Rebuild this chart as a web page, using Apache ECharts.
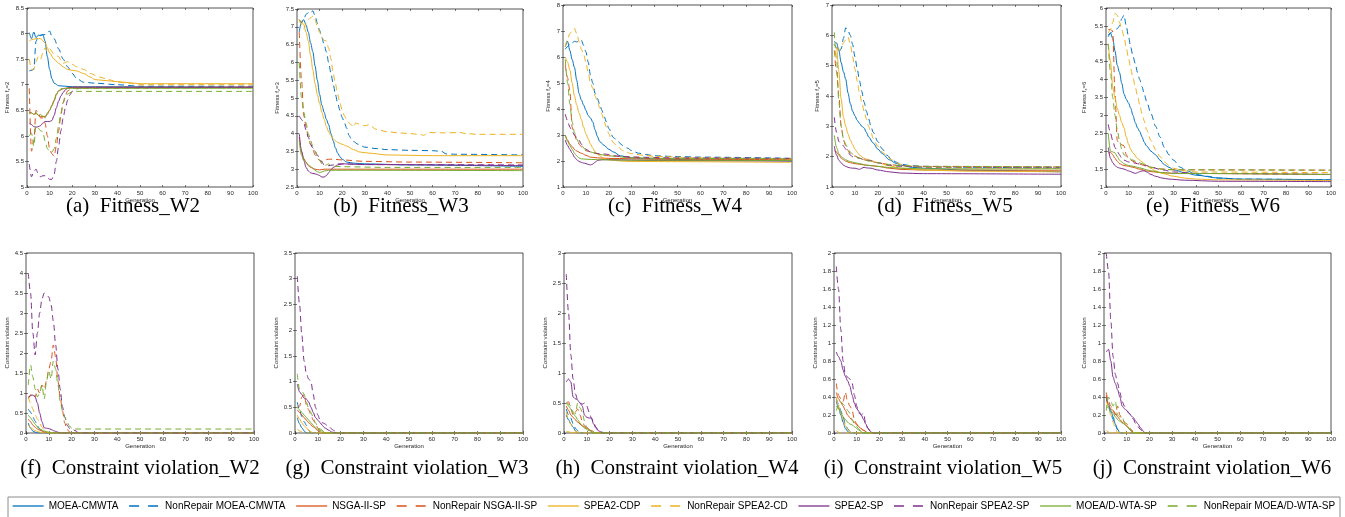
<!DOCTYPE html>
<html><head><meta charset="utf-8">
<script src="https://cdn.jsdelivr.net/npm/echarts@6/dist/echarts.min.js"></script>
<style>html,body{margin:0;padding:0;background:#fff}#c{width:1345px;height:517px}</style>
</head><body><div id="c"></div>
<script>
const seriesNames = ['MOEA-CMWTA','NonRepair MOEA-CMWTA','NSGA-II-SP','NonRepair NSGA-II-SP','SPEA2-CDP','NonRepair SPEA2-CD','SPEA2-SP','NonRepair SPEA2-SP','MOEA/D-WTA-SP','NonRepair MOEA/D-WTA-SP'];
const seriesColors = ['#0072BD','#0072BD','#D95319','#D95319','#EDB120','#EDB120','#7E2F8E','#7E2F8E','#77AC30','#77AC30'];
const seriesDashed = [false,true,false,true,false,true,false,true,false,true];
const panelCaptions = ['(a)  Fitness_W2','(b)  Fitness_W3','(c)  Fitness_W4','(d)  Fitness_W5','(e)  Fitness_W6','(f)  Constraint violation_W2','(g)  Constraint violation_W3','(h)  Constraint violation_W4','(i)  Constraint violation_W5','(j)  Constraint violation_W6'];
const yAxisTitles = ['{a|Fitness f}{b|z}{a|=2}','{a|Fitness f}{b|z}{a|=3}','{a|Fitness f}{b|z}{a|=4}','{a|Fitness f}{b|z}{a|=5}','{a|Fitness f}{b|z}{a|=6}','Constraint violation','Constraint violation','Constraint violation','Constraint violation','Constraint violation'];
const xAxisTitle = 'Generation';
const yMin = [5,2.5,1,1,1,0,0,0,0,0];
const yMax = [8.5,7.5,8,7,6,4.5,3.5,3,2,2];
const yStep = [0.5,0.5,1,1,0.5,0.5,0.5,0.5,0.2,0.2];
const xMin = 0, xMax = 100, xStep = 10;

const fitnessW2 = [
 [[1,8.02],[2,7.9],[3,8.03],[4,7.92],[5,7.97],[6,7.96],[7,7.98],[8,7.85],[9,7.55],[10,7.3],[11,7.12],[12,7.03],[14,6.98],[20,6.96],[100,6.95]],
 [[1,7.27],[2,7.28],[3,7.3],[4,7.85],[5,7.95],[6,7.97],[8,7.98],[10,8.05],[11,7.95],[12,7.9],[14,7.7],[16,7.5],[18,7.35],[20,7.22],[22,7.12],[25,7.05],[30,7.03],[40,7.0],[50,6.97],[100,6.97]],
 [[1,6.45],[2,6.45],[3,6.42],[4,6.45],[5,6.4],[6,6.38],[8,6.38],[9,6.42],[10,6.5],[11,6.6],[12,6.7],[13,6.82],[14,6.88],[16,6.92],[18,6.94],[20,6.95],[100,6.95]],
 [[1,6.93],[2,5.7],[3,5.9],[4,6.5],[5,6.45],[6,6.35],[7,6.35],[8,6.25],[9,6.0],[10,5.75],[11,5.65],[12,5.6],[13,5.8],[14,6.1],[15,6.4],[16,6.65],[17,6.8],[18,6.88],[20,6.93],[100,6.95]],
 [[1,7.85],[2,7.88],[4,7.9],[6,7.9],[8,7.82],[9,7.72],[10,7.62],[12,7.5],[14,7.42],[16,7.35],[18,7.3],[20,7.28],[22,7.27],[25,7.22],[28,7.15],[30,7.1],[35,7.08],[40,7.06],[45,7.04],[50,7.02],[100,7.02]],
 [[1,7.5],[2,7.3],[3,7.3],[4,7.45],[5,7.55],[6,7.5],[7,7.62],[8,7.72],[9,7.65],[10,7.7],[12,7.6],[14,7.55],[15,7.48],[16,7.42],[18,7.45],[20,7.4],[22,7.35],[25,7.3],[28,7.22],[32,7.15],[36,7.1],[40,7.05],[45,7.03],[50,7.0],[100,7.0]],
 [[1,6.25],[2,6.22],[3,6.18],[4,6.17],[5,6.18],[6,6.2],[7,6.25],[8,6.28],[10,6.28],[11,6.3],[12,6.4],[13,6.55],[14,6.68],[15,6.78],[16,6.85],[17,6.9],[18,6.93],[20,6.95],[100,6.95]],
 [[1,5.45],[2,5.2],[3,5.3],[4,5.35],[5,5.25],[6,5.2],[7,5.22],[8,5.22],[9,5.18],[10,5.15],[11,5.15],[12,5.25],[13,5.5],[14,5.8],[15,6.1],[16,6.35],[17,6.55],[18,6.7],[19,6.8],[20,6.87],[22,6.92],[25,6.94],[100,6.95]],
 [[1,6.45],[2,6.45],[3,6.42],[4,6.45],[5,6.4],[6,6.42],[7,6.38],[8,6.35],[9,6.45],[10,6.5],[11,6.58],[12,6.68],[13,6.8],[14,6.88],[15,6.92],[17,6.93],[100,6.93]],
 [[1,6.0],[2,6.05],[3,5.8],[4,6.2],[5,6.15],[6,6.1],[7,6.08],[8,5.9],[9,5.75],[10,5.7],[11,5.68],[12,5.75],[13,5.95],[14,6.2],[15,6.45],[16,6.65],[17,6.75],[18,6.82],[20,6.86],[22,6.87],[100,6.87]]
];
const fitnessW3 = [
 [[1,6.85],[2,7.15],[3,7.2],[4,7.05],[5,6.85],[6,6.55],[7,6.3],[8,5.9],[9,5.5],[10,5.1],[11,4.8],[12,4.6],[13,4.4],[14,4.25],[15,4.0],[16,3.8],[17,3.6],[18,3.45],[19,3.35],[20,3.28],[22,3.2],[25,3.17],[30,3.15],[50,3.12],[100,3.08]],
 [[1,7.2],[2,7.12],[3,7.2],[4,7.35],[5,7.4],[6,7.38],[7,7.45],[8,7.3],[9,7.1],[10,6.9],[11,6.7],[12,6.5],[13,6.3],[14,6.0],[15,5.7],[16,5.4],[17,5.1],[18,4.85],[19,4.65],[20,4.45],[21,4.3],[22,4.15],[23,3.95],[24,3.85],[25,3.78],[27,3.7],[30,3.62],[35,3.58],[40,3.55],[50,3.53],[60,3.52],[64,3.5],[66,3.43],[70,3.42],[100,3.4]],
 [[1,3.9],[2,3.5],[3,3.3],[4,3.2],[5,3.1],[6,3.05],[8,3.0],[10,2.98],[12,3.0],[15,3.0],[100,3.0]],
 [[1,6.85],[2,5.5],[3,4.5],[4,4.2],[5,3.9],[6,3.7],[7,3.55],[8,3.4],[9,3.3],[10,3.25],[11,3.2],[12,3.22],[13,3.27],[14,3.28],[16,3.28],[20,3.26],[30,3.22],[50,3.2],[100,3.18]],
 [[1,7.2],[2,7.15],[3,7.05],[4,6.85],[5,6.6],[6,6.2],[7,5.8],[8,5.4],[9,5.1],[10,4.85],[11,4.6],[12,4.4],[13,4.2],[14,4.05],[15,3.95],[16,3.85],[17,3.8],[18,3.75],[20,3.7],[22,3.65],[25,3.55],[28,3.48],[32,3.45],[40,3.4],[60,3.38],[100,3.38]],
 [[1,7.2],[2,7.05],[3,6.95],[4,7.1],[5,7.2],[6,7.25],[7,7.3],[8,7.2],[9,7.0],[10,6.85],[11,6.7],[12,6.62],[13,6.6],[14,6.4],[15,6.1],[16,5.7],[17,5.4],[18,5.1],[19,4.85],[20,4.65],[21,4.5],[22,4.4],[23,4.3],[24,4.25],[25,4.18],[26,4.3],[28,4.25],[30,4.22],[32,4.25],[35,4.12],[40,4.05],[45,4.02],[50,4.0],[55,3.97],[56,3.95],[58,4.03],[65,4.02],[72,4.03],[75,4.0],[80,3.98],[100,3.98]],
 [[1,4.0],[2,3.5],[3,3.25],[4,3.05],[5,2.95],[6,2.9],[7,2.88],[8,2.87],[9,2.85],[10,2.82],[11,2.78],[12,2.78],[13,2.82],[14,2.9],[15,2.98],[16,3.05],[18,3.12],[20,3.15],[30,3.13],[100,3.1]],
 [[1,4.5],[2,4.4],[3,4.3],[4,4.1],[5,3.9],[6,3.7],[7,3.6],[8,3.5],[9,3.4],[10,3.3],[11,3.2],[12,3.12],[13,3.1],[14,3.1],[16,3.12],[18,3.15],[20,3.15],[30,3.13],[100,3.12]],
 [[1,3.8],[2,3.4],[3,3.25],[4,3.18],[5,3.12],[6,3.08],[7,3.03],[8,2.97],[9,2.93],[10,2.9],[11,2.92],[12,2.95],[14,2.97],[20,2.97],[100,2.96]],
 [[1,6.0],[2,5.0],[3,4.6],[4,4.3],[5,4.0],[6,3.8],[7,3.65],[8,3.5],[9,3.35],[10,3.25],[11,3.15],[12,3.1],[13,3.12],[14,3.15],[15,3.1],[17,3.08],[20,3.07],[40,3.05],[100,3.05]]
];
const fitnessW4 = [
 [[1,6.4],[2,6.6],[3,6.25],[4,5.9],[5,5.6],[6,5.1],[7,4.6],[8,4.35],[9,4.15],[10,3.95],[11,3.75],[12,3.65],[13,3.5],[14,3.2],[15,2.95],[16,2.75],[18,2.6],[20,2.45],[22,2.35],[25,2.2],[30,2.12],[40,2.08],[60,2.04],[100,2.0]],
 [[1,6.3],[2,6.4],[3,6.5],[4,6.55],[5,6.6],[6,6.58],[7,6.62],[8,6.65],[9,6.45],[10,6.2],[11,5.8],[12,5.3],[13,5.0],[14,4.6],[15,4.4],[16,4.2],[17,3.95],[18,3.7],[19,3.5],[20,3.25],[22,2.9],[24,2.75],[26,2.6],[28,2.5],[30,2.4],[33,2.3],[36,2.25],[40,2.2],[50,2.17],[60,2.15],[100,2.1]],
 [[1,3.0],[2,2.8],[3,2.65],[4,2.55],[5,2.45],[6,2.38],[8,2.3],[10,2.22],[12,2.15],[15,2.12],[20,2.1],[40,2.07],[100,2.05]],
 [[1,5.7],[2,5.2],[3,4.7],[4,3.3],[5,3.0],[6,2.8],[7,2.65],[8,2.55],[10,2.4],[12,2.35],[14,2.3],[16,2.25],[20,2.2],[30,2.15],[40,2.1],[100,2.08]],
 [[1,6.0],[2,5.8],[3,5.5],[4,5.0],[5,4.5],[6,4.15],[7,3.85],[8,3.6],[9,3.3],[10,3.05],[11,2.85],[12,2.65],[13,2.5],[14,2.35],[16,2.2],[18,2.1],[20,2.05],[25,2.0],[30,1.98],[100,1.95]],
 [[1,6.4],[2,6.7],[3,6.9],[4,7.0],[5,7.1],[6,6.9],[7,6.6],[8,6.3],[9,6.1],[10,5.8],[11,5.4],[12,5.0],[13,4.8],[14,4.5],[15,4.3],[16,4.05],[17,3.8],[18,3.5],[19,3.3],[20,3.05],[21,2.85],[22,2.7],[24,2.55],[26,2.4],[30,2.28],[35,2.22],[40,2.18],[60,2.12],[100,2.08]],
 [[1,2.8],[2,2.6],[3,2.45],[4,2.3],[5,2.15],[6,2.05],[7,1.98],[8,1.95],[9,1.92],[10,1.9],[11,1.87],[12,1.85],[13,1.88],[14,1.95],[15,2.02],[17,2.05],[20,2.05],[40,2.02],[100,2.0]],
 [[1,3.8],[2,3.55],[3,3.3],[4,3.15],[5,3.0],[6,2.9],[7,2.8],[8,2.65],[9,2.55],[10,2.45],[12,2.35],[14,2.3],[16,2.28],[18,2.27],[20,2.25],[22,2.2],[25,2.18],[30,2.15],[50,2.12],[100,2.1]],
 [[1,3.0],[2,2.75],[3,2.6],[4,2.45],[5,2.3],[6,2.2],[7,2.12],[8,2.08],[10,2.07],[15,2.05],[30,2.03],[100,2.02]],
 [[1,5.9],[2,5.0],[3,4.2],[4,3.5],[5,3.1],[6,2.85],[7,2.7],[8,2.6],[10,2.42],[12,2.35],[14,2.3],[16,2.25],[20,2.2],[30,2.12],[50,2.1],[100,2.08]]
];
const fitnessW5 = [
 [[1,5.8],[2,5.75],[3,5.5],[4,5.1],[5,4.8],[6,4.55],[7,4.1],[8,3.75],[9,3.5],[10,3.35],[11,3.2],[12,3.1],[13,3.0],[14,2.95],[15,2.8],[16,2.65],[18,2.45],[20,2.25],[22,2.1],[25,1.9],[28,1.78],[30,1.72],[35,1.65],[40,1.62],[60,1.55],[100,1.5]],
 [[1,5.7],[2,5.6],[3,5.45],[4,5.55],[5,5.9],[6,6.25],[7,6.15],[8,6.0],[9,5.7],[10,5.3],[11,4.9],[12,4.5],[13,4.15],[14,3.8],[15,3.5],[16,3.25],[17,3.0],[18,2.8],[20,2.5],[22,2.25],[24,2.05],[26,1.92],[28,1.82],[30,1.75],[35,1.7],[40,1.68],[60,1.65],[100,1.62]],
 [[1,2.2],[2,2.15],[3,2.05],[4,1.95],[5,1.9],[6,1.85],[8,1.8],[10,1.77],[12,1.75],[15,1.72],[18,1.7],[20,1.68],[25,1.62],[30,1.58],[40,1.56],[100,1.55]],
 [[1,5.5],[2,4.8],[3,4.0],[4,3.0],[5,2.55],[6,2.35],[7,2.2],[8,2.1],[10,2.02],[12,1.95],[14,1.9],[16,1.86],[20,1.8],[25,1.74],[30,1.7],[40,1.68],[100,1.66]],
 [[1,5.7],[2,5.6],[3,4.8],[4,3.9],[5,3.3],[6,3.0],[7,2.75],[8,2.55],[9,2.4],[10,2.25],[11,2.15],[12,2.05],[14,1.95],[16,1.9],[18,1.85],[20,1.8],[25,1.7],[30,1.62],[40,1.56],[60,1.52],[100,1.5]],
 [[1,5.3],[2,5.6],[3,5.5],[4,5.6],[5,5.75],[6,5.85],[7,5.95],[8,5.7],[9,5.3],[10,4.9],[11,4.5],[12,4.1],[13,3.8],[14,3.5],[15,3.25],[16,3.0],[17,2.8],[18,2.6],[20,2.35],[22,2.15],[24,2.0],[26,1.9],[28,1.8],[30,1.75],[35,1.68],[40,1.65],[100,1.62]],
 [[1,2.35],[2,2.05],[3,1.88],[4,1.8],[5,1.72],[6,1.68],[7,1.65],[8,1.63],[9,1.62],[10,1.62],[11,1.6],[12,1.58],[13,1.62],[14,1.65],[15,1.63],[17,1.62],[20,1.56],[25,1.5],[30,1.46],[40,1.44],[100,1.42]],
 [[1,3.3],[2,2.8],[3,2.5],[4,2.42],[5,2.35],[6,2.25],[7,2.15],[8,2.05],[9,2.0],[10,1.98],[12,1.95],[14,1.9],[16,1.88],[18,1.85],[20,1.8],[25,1.72],[30,1.68],[40,1.66],[100,1.65]],
 [[1,2.7],[2,2.3],[3,2.1],[4,2.0],[5,1.95],[6,1.9],[7,1.86],[8,1.84],[10,1.8],[12,1.77],[15,1.72],[20,1.68],[25,1.64],[30,1.62],[40,1.6],[100,1.6]],
 [[1,6.1],[2,5.2],[3,3.8],[4,3.0],[5,2.6],[6,2.4],[7,2.25],[8,2.15],[10,2.02],[12,1.95],[14,1.9],[16,1.86],[20,1.8],[25,1.74],[30,1.7],[40,1.68],[100,1.67]]
];
const fitnessW6 = [
 [[1,5.2],[2,5.3],[3,5.15],[4,4.8],[5,4.4],[6,4.2],[7,3.9],[8,3.6],[9,3.45],[10,3.35],[11,3.2],[12,3.0],[13,2.8],[14,2.65],[15,2.55],[16,2.4],[17,2.25],[18,2.15],[20,2.0],[22,1.9],[24,1.75],[26,1.62],[28,1.55],[30,1.48],[35,1.4],[40,1.33],[50,1.25],[60,1.22],[100,1.2]],
 [[1,5.25],[2,5.3],[3,5.35],[4,5.4],[5,5.42],[6,5.5],[7,5.7],[8,5.8],[9,5.5],[10,5.2],[11,4.9],[12,4.65],[13,4.45],[14,4.2],[15,4.0],[16,3.8],[17,3.6],[18,3.4],[20,3.05],[22,2.7],[24,2.4],[26,2.1],[28,1.9],[30,1.75],[33,1.55],[36,1.45],[40,1.35],[45,1.3],[50,1.25],[60,1.22],[100,1.2]],
 [[1,1.95],[2,1.97],[3,1.9],[4,1.8],[5,1.72],[6,1.65],[8,1.6],[10,1.58],[12,1.55],[15,1.5],[18,1.45],[20,1.43],[25,1.4],[30,1.38],[100,1.35]],
 [[1,5.4],[2,5.4],[3,5.35],[4,3.6],[5,2.3],[6,2.2],[7,2.18],[8,2.15],[9,1.9],[10,1.8],[12,1.72],[14,1.67],[16,1.62],[18,1.58],[20,1.55],[25,1.5],[30,1.48],[100,1.47]],
 [[1,5.0],[2,4.5],[3,3.8],[4,3.5],[5,3.2],[6,3.0],[7,2.8],[8,2.65],[9,2.4],[10,2.2],[11,2.05],[12,1.95],[14,1.8],[16,1.7],[18,1.6],[20,1.52],[22,1.45],[25,1.38],[30,1.3],[35,1.25],[40,1.22],[50,1.2],[100,1.18]],
 [[1,5.3],[2,5.4],[3,5.6],[4,5.85],[5,5.8],[6,5.6],[7,5.4],[8,5.2],[9,4.9],[10,4.6],[11,4.3],[12,4.05],[13,3.8],[14,3.55],[15,3.3],[16,3.05],[17,2.85],[18,2.6],[20,2.3],[22,2.05],[24,1.85],[26,1.7],[28,1.6],[30,1.52],[35,1.45],[40,1.42],[100,1.4]],
 [[1,2.1],[2,1.8],[3,1.68],[4,1.6],[5,1.55],[6,1.53],[8,1.5],[10,1.45],[11,1.43],[12,1.4],[13,1.38],[14,1.4],[15,1.43],[16,1.45],[17,1.45],[18,1.42],[20,1.35],[22,1.3],[25,1.25],[28,1.22],[35,1.19],[50,1.16],[100,1.15]],
 [[1,2.75],[2,2.5],[3,2.3],[4,2.1],[5,2.0],[6,1.9],[7,1.8],[8,1.75],[10,1.7],[12,1.68],[14,1.65],[16,1.63],[18,1.6],[20,1.55],[25,1.48],[30,1.42],[40,1.38],[100,1.35]],
 [[1,2.5],[2,2.0],[3,1.98],[4,1.95],[5,1.85],[6,1.75],[7,1.7],[8,1.65],[9,1.62],[10,1.6],[12,1.58],[14,1.55],[16,1.52],[18,1.48],[20,1.45],[25,1.4],[30,1.38],[100,1.35]],
 [[1,5.0],[2,4.2],[3,3.5],[4,3.0],[5,2.6],[6,2.3],[7,2.05],[8,1.9],[10,1.8],[12,1.75],[14,1.7],[16,1.65],[18,1.6],[20,1.55],[25,1.5],[30,1.48],[100,1.47]]
];
const violationW2 = [
 [[1,0.25],[2,0.12],[3,0.05],[4,0.02],[5,0],[100,0]],
 [[1,0.6],[2,0.52],[3,0.4],[4,0.3],[5,0.18],[6,0.1],[7,0.04],[8,0],[100,0]],
 [[1,0.35],[2,0.28],[3,0.2],[4,0.14],[5,0.1],[6,0.07],[8,0.03],[10,0],[100,0]],
 [[1,0.85],[2,0.95],[3,1.0],[4,0.9],[5,1.1],[6,1.0],[7,1.2],[8,1.1],[9,1.3],[10,1.6],[11,1.8],[12,2.2],[13,1.9],[14,1.3],[15,0.9],[16,0.55],[17,0.25],[18,0.1],[19,0.03],[20,0],[100,0]],
 [[1,0.2],[2,0.14],[3,0.1],[4,0.06],[5,0.04],[6,0.02],[8,0],[100,0]],
 [[1,0.9],[2,0.75],[3,0.6],[4,0.45],[5,0.35],[6,0.25],[7,0.15],[8,0.08],[10,0],[100,0]],
 [[1,0.9],[2,0.93],[3,0.95],[4,0.9],[5,0.75],[6,0.5],[7,0.28],[8,0.13],[9,0.12],[10,0.11],[11,0.09],[12,0.06],[13,0.04],[14,0.02],[15,0],[100,0]],
 [[1,4.0],[2,3.5],[3,2.5],[4,1.95],[5,2.5],[6,3.0],[7,3.35],[8,3.5],[9,3.45],[10,3.4],[11,3.2],[12,2.8],[13,2.2],[14,1.6],[15,1.1],[16,0.65],[17,0.4],[18,0.2],[19,0.12],[20,0.1],[22,0.05],[23,0],[100,0]],
 [[1,0.45],[2,0.38],[3,0.3],[4,0.22],[5,0.15],[6,0.1],[8,0.05],[10,0.02],[12,0],[100,0]],
 [[1,1.2],[2,1.7],[3,1.4],[4,1.1],[5,0.9],[6,1.0],[7,1.2],[8,0.85],[9,1.3],[10,1.55],[11,1.35],[12,1.8],[13,1.6],[14,1.2],[15,0.8],[16,0.55],[17,0.4],[18,0.28],[19,0.18],[20,0.12],[21,0.1],[100,0.1]]
];
const violationW3 = [
 [[1,0.3],[2,0.18],[3,0.1],[4,0.04],[5,0],[100,0]],
 [[1,0.6],[2,0.45],[3,0.32],[4,0.22],[5,0.15],[6,0.06],[7,0],[100,0]],
 [[1,0.45],[2,0.4],[3,0.35],[4,0.3],[5,0.25],[6,0.2],[8,0.12],[10,0.05],[12,0],[100,0]],
 [[1,0.5],[2,0.52],[3,0.7],[4,0.75],[5,0.55],[6,0.45],[7,0.35],[8,0.25],[9,0.18],[10,0.1],[11,0.05],[12,0],[100,0]],
 [[1,0.35],[2,0.27],[3,0.2],[4,0.14],[5,0.1],[6,0.05],[8,0],[100,0]],
 [[1,0.08],[2,0.04],[3,0.02],[5,0],[100,0]],
 [[1,0.95],[2,0.8],[3,0.75],[4,0.68],[5,0.66],[6,0.6],[7,0.5],[8,0.4],[9,0.3],[10,0.25],[11,0.2],[12,0.15],[13,0.1],[15,0.05],[16,0.02],[18,0],[100,0]],
 [[1,3.05],[2,2.5],[3,1.9],[4,1.4],[5,1.15],[6,1.05],[7,1.0],[8,0.75],[9,0.5],[10,0.35],[11,0.25],[12,0.2],[13,0.18],[14,0.15],[15,0.12],[16,0.08],[17,0.05],[18,0.02],[20,0],[100,0]],
 [[1,0.5],[2,0.45],[3,0.4],[4,0.35],[5,0.3],[6,0.25],[7,0.2],[8,0.15],[9,0.1],[11,0.05],[13,0],[100,0]],
 [[1,1.15],[2,0.85],[3,0.82],[4,0.75],[5,0.6],[6,0.48],[7,0.4],[8,0.3],[9,0.2],[10,0.12],[11,0.08],[13,0.02],[14,0],[100,0]]
];
const violationW4 = [
 [[1,0.3],[2,0.22],[3,0.15],[4,0.1],[5,0.04],[6,0],[100,0]],
 [[1,0.4],[2,0.3],[3,0.25],[4,0.15],[5,0.08],[6,0.04],[7,0],[100,0]],
 [[1,0.45],[2,0.38],[3,0.3],[4,0.26],[5,0.22],[6,0.18],[8,0.12],[10,0.08],[12,0.04],[14,0],[100,0]],
 [[1,0.5],[2,0.52],[3,0.4],[4,0.3],[5,0.35],[6,0.4],[7,0.3],[8,0.2],[9,0.12],[10,0.08],[11,0.05],[13,0],[100,0]],
 [[1,0.03],[2,0.02],[3,0.01],[5,0],[100,0]],
 [[1,0.35],[2,0.22],[3,0.15],[4,0.08],[5,0.03],[7,0],[100,0]],
 [[1,0.85],[2,0.9],[3,0.85],[4,0.6],[5,0.57],[6,0.55],[7,0.5],[8,0.45],[9,0.3],[10,0.26],[11,0.25],[12,0.25],[13,0.15],[14,0.08],[15,0.04],[16,0.02],[17,0],[100,0]],
 [[1,2.65],[2,2.0],[3,1.3],[4,0.9],[5,0.65],[6,0.55],[7,0.5],[8,0.48],[9,0.5],[10,0.45],[11,0.35],[12,0.25],[13,0.18],[14,0.1],[15,0.05],[16,0.02],[18,0],[100,0]],
 [[1,0.5],[2,0.45],[3,0.4],[4,0.33],[5,0.28],[6,0.22],[7,0.17],[8,0.12],[9,0.08],[11,0.04],[14,0],[100,0]],
 [[1,0.5],[2,0.48],[3,0.45],[4,0.35],[5,0.32],[6,0.5],[7,0.42],[8,0.35],[9,0.2],[10,0.1],[11,0.05],[13,0],[100,0]]
];
const violationW5 = [
 [[1,0.35],[2,0.28],[3,0.2],[4,0.12],[5,0.05],[6,0.02],[7,0],[100,0]],
 [[1,0.38],[2,0.32],[3,0.25],[4,0.18],[5,0.1],[6,0.05],[7,0.02],[8,0],[100,0]],
 [[1,0.45],[2,0.38],[3,0.34],[4,0.3],[5,0.25],[6,0.2],[7,0.17],[8,0.14],[9,0.12],[10,0.09],[12,0.05],[13,0.03],[15,0],[100,0]],
 [[1,0.55],[2,0.42],[3,0.38],[4,0.35],[5,0.45],[6,0.35],[7,0.3],[8,0.25],[9,0.15],[10,0.1],[11,0.06],[13,0.03],[15,0],[100,0]],
 [[1,0.4],[2,0.3],[3,0.22],[4,0.15],[5,0.08],[6,0.04],[8,0],[100,0]],
 [[1,0.03],[2,0.01],[3,0],[100,0]],
 [[1,0.9],[2,0.85],[3,0.8],[4,0.7],[5,0.63],[6,0.58],[7,0.52],[8,0.42],[9,0.33],[10,0.27],[11,0.24],[12,0.2],[13,0.15],[14,0.1],[15,0.05],[16,0.02],[17,0],[100,0]],
 [[1,1.85],[2,1.6],[3,1.15],[4,0.8],[5,0.65],[6,0.62],[7,0.6],[8,0.55],[9,0.42],[10,0.3],[11,0.22],[12,0.2],[13,0.22],[14,0.1],[15,0.05],[16,0.02],[17,0],[100,0]],
 [[1,0.3],[2,0.27],[3,0.23],[4,0.18],[5,0.15],[6,0.12],[7,0.1],[8,0.09],[9,0.07],[10,0.05],[11,0.03],[13,0],[100,0]],
 [[1,0.25],[2,0.3],[3,0.35],[4,0.32],[5,0.3],[6,0.25],[7,0.22],[8,0.15],[9,0.1],[10,0.07],[11,0.04],[13,0],[100,0]]
];
const violationW6 = [
 [[1,0.38],[2,0.32],[3,0.25],[4,0.18],[5,0.1],[6,0.04],[7,0],[100,0]],
 [[1,0.4],[2,0.3],[3,0.22],[4,0.15],[5,0.08],[6,0.04],[7,0],[100,0]],
 [[1,0.42],[2,0.3],[3,0.27],[4,0.25],[5,0.22],[6,0.18],[7,0.15],[8,0.12],[10,0.08],[12,0.03],[13,0],[100,0]],
 [[1,0.45],[2,0.35],[3,0.3],[4,0.25],[5,0.2],[6,0.3],[7,0.2],[8,0.15],[9,0.12],[10,0.1],[12,0.04],[13,0],[100,0]],
 [[1,0.03],[2,0.01],[3,0],[100,0]],
 [[1,0.35],[2,0.3],[3,0.2],[4,0.12],[5,0.05],[6,0],[100,0]],
 [[1,0.9],[2,0.93],[3,0.8],[4,0.62],[5,0.55],[6,0.48],[7,0.4],[8,0.3],[9,0.27],[10,0.25],[11,0.22],[12,0.19],[13,0.17],[14,0.13],[15,0.1],[16,0.06],[17,0.03],[18,0],[100,0]],
 [[1,2.0],[2,1.8],[3,1.25],[4,0.85],[5,0.65],[6,0.55],[7,0.45],[8,0.35],[9,0.3],[10,0.25],[11,0.22],[12,0.2],[13,0.15],[14,0.1],[15,0.07],[16,0.04],[17,0.02],[18,0],[100,0]],
 [[1,0.3],[2,0.28],[3,0.25],[4,0.22],[5,0.18],[6,0.15],[7,0.13],[8,0.11],[9,0.1],[10,0.07],[11,0.05],[12,0.02],[13,0],[100,0]],
 [[1,0.25],[2,0.4],[3,0.35],[4,0.3],[5,0.35],[6,0.2],[7,0.18],[8,0.18],[9,0.12],[10,0.1],[11,0.05],[13,0],[100,0]]
];
const panels = [fitnessW2, fitnessW3, fitnessW4, fitnessW5, fitnessW6, violationW2, violationW3, violationW4, violationW5, violationW6];

// layout (pixels)
const gridBoxes = [
 {left:27, top:8, width:226, height:179},
 {left:297, top:9, width:226, height:178},
 {left:563, top:5, width:229, height:182},
 {left:832, top:5, width:229, height:182},
 {left:1106, top:8, width:225, height:179},
 {left:26, top:253, width:228, height:180},
 {left:295, top:253, width:228, height:180},
 {left:564, top:253, width:228, height:180},
 {left:834, top:253, width:227, height:180},
 {left:1104, top:253, width:227, height:180}
];
const captionPos = [[133,206],[401,206],[675,206],[945,206],[1213,206],[140,468],[407,468],[677,468],[943,468],[1212,468]];
const yNameGap = [16,16,11,11,18,16,16,14,14,17];

const tickFont = {fontFamily:'Liberation Sans, Arial, sans-serif', fontSize:6, color:'#262626'};
const grids = [], xAxes = [], yAxes = [], series = [], graphics = [];
gridBoxes.forEach((g,i)=>{
  grids.push(Object.assign({show:true, borderColor:'#262626', borderWidth:0.8, backgroundColor:'#fff'}, g));
});
for (let i=0;i<10;i++){
  xAxes.push({gridIndex:i, type:'value', min:xMin, max:xMax, interval:xStep, position:'bottom',
    name:xAxisTitle, nameLocation:'middle', nameGap:8,
    nameTextStyle:{fontFamily:'Liberation Sans, Arial, sans-serif', fontSize:6, color:'#262626'},
    axisLine:{show:false}, axisTick:{show:true, inside:true, length:2, lineStyle:{color:'#262626', width:0.6}},
    axisLabel:Object.assign({margin:3}, tickFont), splitLine:{show:false}});
  yAxes.push({gridIndex:i, type:'value', min:yMin[i], max:yMax[i], interval:yStep[i], position:'left',
    name:yAxisTitles[i], nameLocation:'middle', nameGap:yNameGap[i],
    nameTextStyle:{fontFamily:'Liberation Sans, Arial, sans-serif', fontSize:6, color:'#262626',
      rich:{a:{fontSize:6, color:'#262626', fontFamily:'Liberation Sans, Arial, sans-serif'}, b:{fontSize:4, color:'#262626', verticalAlign:'bottom', padding:[3,0,0,0]}}},
    axisLine:{show:false}, axisTick:{show:true, inside:true, length:2, lineStyle:{color:'#262626', width:0.6}},
    axisLabel:Object.assign({margin:3}, tickFont), splitLine:{show:false}});
}
for (let i=0;i<10;i++){
  xAxes.push({gridIndex:i, type:'value', min:xMin, max:xMax, interval:xStep, position:'top',
    axisLine:{show:false}, axisTick:{show:true, inside:true, length:2, lineStyle:{color:'#262626', width:0.6}},
    axisLabel:{show:false}, splitLine:{show:false}});
  yAxes.push({gridIndex:i, type:'value', min:yMin[i], max:yMax[i], interval:yStep[i], position:'right',
    axisLine:{show:false}, axisTick:{show:true, inside:true, length:2, lineStyle:{color:'#262626', width:0.6}},
    axisLabel:{show:false}, splitLine:{show:false}});
}
panels.forEach((panel,pi)=>{
  panel.forEach((pts,si)=>{
    series.push({name:seriesNames[si], type:'line', xAxisIndex:pi, yAxisIndex:pi, data:pts,
      symbol:'none', smooth:0.3, smoothMonotone:'x', clip:true, animation:false, silent:true,
      lineStyle:{color:seriesColors[si], width:1, type: seriesDashed[si] ? [6,4] : 'solid'},
      itemStyle:{color:seriesColors[si]}});
  });
});
panelCaptions.forEach((t,i)=>{
  graphics.push({type:'text', x:captionPos[i][0], y:captionPos[i][1], silent:true,
    style:{text:t, x:0, y:0, align:'center', verticalAlign:'middle', fill:'#000', font:'21px "Liberation Serif", "Times New Roman", serif'}});
});
graphics.push({type:'rect', silent:true, shape:{x:8, y:497, width:1332, height:40}, style:{fill:'none', stroke:'#8c8c8c', lineWidth:1}});

const legendData = seriesNames.map((n,i)=>({name:n, lineStyle:{type: seriesDashed[i] ? [10,9] : 'solid', width:1.3}}));

const chart = echarts.init(document.getElementById('c'), null, {renderer:'canvas'});
chart.setOption({
  animation:false,
  backgroundColor:'#fff',
  grid:grids, xAxis:xAxes, yAxis:yAxes, series:series,
  legend:{data:legendData, left:12, top:501, padding:0, itemWidth:31, itemHeight:8, itemGap:10,
    itemStyle:{opacity:0},
    textStyle:{fontFamily:'Liberation Sans, Arial, sans-serif', fontSize:10, color:'#000'},
    selectedMode:false},
  graphic:graphics
});
</script></body></html>
